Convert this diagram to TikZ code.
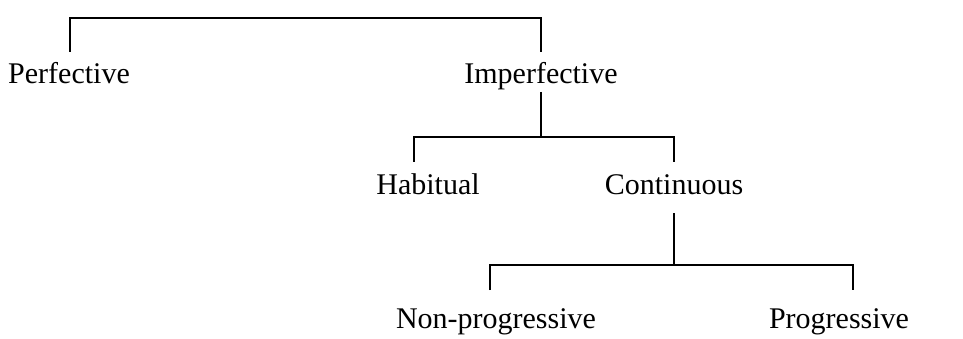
\documentclass[tikz,border=0pt]{standalone}
\usepackage{fontspec}
\setmainfont{Liberation Serif}
\begin{document}
\begin{tikzpicture}[x=1pt,y=1pt]
\useasboundingbox (0,0) rectangle (963,-339);
\tikzset{lbl/.style={font=\fontsize{30}{36}\selectfont, inner sep=0pt, anchor=base},
  br/.style={line width=1.6pt, line join=miter}}
% labels
\node[lbl] (perf) at (69,-84) {Perfective};
\node[lbl] (imp) at (541,-84) {Imperfective};
\node[lbl] (hab) at (428,-195) {Habitual};
\node[lbl] (cont) at (674,-195) {Continuous};
\node[lbl] (nonp) at (496,-328) {Non-progressive};
\node[lbl] (prog) at (839,-328) {Progressive};
% junction coordinates
\coordinate (t1) at (70,-18);
\coordinate (t2) at (541,-18);
\coordinate (d1) at (70,-52);
\coordinate (d2) at (541,-52);
\coordinate (s0) at (541,-92);
\coordinate (s1) at (414,-137);
\coordinate (s2) at (674,-137);
\coordinate (sm) at (541,-137);
\coordinate (e1) at (414,-162);
\coordinate (e2) at (674,-162);
\coordinate (u0) at (674,-213);
\coordinate (u1) at (490,-265);
\coordinate (u2) at (853,-265);
\coordinate (um) at (674,-265);
\coordinate (f1) at (490,-290);
\coordinate (f2) at (853,-290);
% brackets
\draw[br] (d1) -- (t1) -- (t2) -- (d2);
\draw[br] (s0) -- (sm);
\draw[br] (e1) -- (s1) -- (s2) -- (e2);
\draw[br] (u0) -- (um);
\draw[br] (f1) -- (u1) -- (u2) -- (f2);
\end{tikzpicture}
\end{document}
